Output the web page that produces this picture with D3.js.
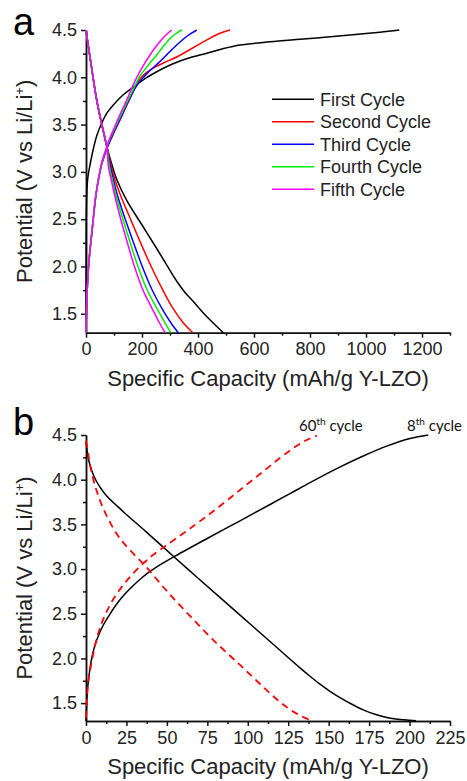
<!DOCTYPE html>
<html>
<head>
<meta charset="utf-8">
<script src="https://cdn.jsdelivr.net/npm/d3@7"></script>
<style>
  body { margin: 0; background: #fff; }
  svg { display: block; font-family: "Liberation Sans", Arial, sans-serif; }
  .axis path, .axis line { stroke: #111; stroke-width: 1.5; }
  .axis text { fill: #222; font-size: 18px; font-family: "Liberation Sans", Arial, sans-serif; }
</style>
</head>
<body>
<script>
// Panel a: [capacity (mAh/g), potential (V)] pairs.
const cycleNames = ['First Cycle', 'Second Cycle', 'Third Cycle', 'Fourth Cycle', 'Fifth Cycle'];
const cycleColors = ['#000000', '#ff0000', '#0000ff', '#00ee00', '#ff00ff'];

const firstCharge = [[0,1.3],[0.18,1.646],[0.54,2.069],[1.07,2.491],[2.14,2.703],[4.29,2.861],[7.86,2.967],[14.3,3.073],[26.1,3.242],[39.3,3.39],[56.1,3.514],[75,3.623],[97.5,3.707],[132.1,3.813],[168.9,3.897],[210.7,3.987],[252.5,4.059],[292.9,4.119],[335.7,4.172],[382.1,4.217],[431.1,4.254],[485.7,4.299],[550,4.341],[657.1,4.375],[764.3,4.402],[853.6,4.424],[942.9,4.447],[1050,4.477],[1118.9,4.5]];
const firstDischarge = [[0,4.5],[3.57,4.426],[7.14,4.352],[14.3,4.215],[25,4.003],[38.2,3.76],[56.1,3.506],[73.9,3.274],[91.8,3.083],[110.7,2.914],[145.4,2.698],[198.9,2.444],[252.5,2.19],[300,1.958],[328.6,1.825],[353.6,1.725],[383.2,1.63],[431.1,1.471],[490.4,1.3]];

const secondCharge = [[0,1.3],[1.07,1.456],[2.5,1.614],[5,1.794],[8.2,1.963],[13.6,2.153],[20.4,2.344],[26.8,2.528],[33.2,2.703],[40.4,2.851],[48.2,2.978],[57.1,3.094],[67.9,3.189],[79.6,3.284],[100,3.416],[121.4,3.549],[139.3,3.665],[157.1,3.776],[173.2,3.876],[186.8,3.956],[200,4.008],[216.8,4.053],[246.4,4.107],[282.1,4.159],[323.9,4.215],[371.4,4.294],[407.1,4.354],[442.9,4.415],[478.6,4.466],[514.3,4.5]];
const secondDischarge = [[0,4.5],[3.57,4.426],[7.14,4.352],[14.3,4.215],[25,4.003],[38.2,3.76],[56.1,3.506],[73.9,3.274],[91.8,3.041],[103.6,2.914],[121.4,2.766],[157.1,2.513],[192.9,2.264],[228.6,2.026],[270.4,1.773],[311.8,1.551],[346.4,1.408],[381.1,1.3]];

const thirdCharge = [[0,1.3],[1.07,1.456],[2.5,1.614],[5,1.794],[8.2,1.963],[13.6,2.153],[20.4,2.344],[26.8,2.528],[33.2,2.703],[40.4,2.851],[48.2,2.978],[57.1,3.094],[67.9,3.189],[79.6,3.284],[100,3.422],[121.4,3.554],[139.3,3.67],[157.1,3.781],[175,3.882],[192.9,3.961],[204.6,3.998],[228.6,4.072],[264.3,4.167],[300,4.273],[335.7,4.373],[364.3,4.442],[395.4,4.5]];
const thirdDischarge = [[0,4.5],[3.57,4.426],[7.14,4.352],[14.3,4.215],[25,4.003],[38.2,3.76],[56.1,3.506],[73.9,3.274],[87.5,3.052],[98.2,2.914],[111.8,2.756],[139.3,2.507],[168.9,2.259],[198.9,2.016],[234.6,1.762],[276.1,1.53],[303.6,1.403],[329.6,1.3]];

const fourthCharge = [[0,1.3],[1.07,1.456],[2.5,1.614],[5,1.794],[8.2,1.963],[13.6,2.153],[20.4,2.344],[26.8,2.528],[33.2,2.703],[40.4,2.851],[48.2,2.978],[57.1,3.105],[67.9,3.205],[79.6,3.305],[100,3.443],[121.4,3.58],[139.3,3.691],[157.1,3.802],[175,3.913],[192.9,4.014],[221.4,4.125],[252.5,4.236],[275,4.322],[300,4.41],[321.4,4.463],[341.8,4.5]];
const fourthDischarge = [[0,4.5],[3.57,4.426],[7.14,4.352],[14.3,4.215],[25,4.003],[38.2,3.76],[56.1,3.506],[73.9,3.274],[83.9,3.052],[94.6,2.904],[107.1,2.75],[131.1,2.507],[157.1,2.259],[183.2,2.021],[216.8,1.762],[237.5,1.641],[258.2,1.53],[280.4,1.413],[302.5,1.3]];

const fifthCharge = [[0,1.3],[1.07,1.456],[2.5,1.614],[5,1.794],[8.2,1.963],[13.6,2.153],[20.4,2.344],[26.8,2.528],[33.2,2.703],[40.4,2.851],[48.2,2.978],[57.1,3.11],[67.9,3.21],[79.6,3.315],[97.5,3.443],[121.4,3.607],[145.4,3.76],[160.7,3.866],[181.1,3.998],[203.6,4.119],[228.6,4.236],[250,4.326],[270.4,4.4],[289.3,4.458],[306.1,4.5]];
const fifthDischarge = [[0,4.5],[3.57,4.426],[7.14,4.352],[14.3,4.215],[25,4.003],[38.2,3.76],[56.1,3.506],[73.9,3.274],[80.4,3.052],[91.1,2.904],[102.5,2.75],[123.9,2.502],[147.5,2.254],[171.4,2.016],[202.5,1.757],[221.4,1.641],[240.4,1.53],[260.7,1.413],[282.1,1.3]];

// Panel b: 8th and 60th cycle.
const eighthCharge = [[0,1.3],[0.19,1.401],[0.49,1.535],[0.8,1.628],[1.55,1.759],[2.47,1.89],[3.71,2.016],[5.56,2.15],[7.73,2.257],[10.69,2.374],[14.22,2.48],[18.98,2.609],[23.49,2.71],[29.24,2.816],[34,2.894],[39.56,2.973],[46.98,3.06],[55.01,3.144],[74.61,3.339],[95.19,3.54],[113.74,3.722],[126.1,3.844],[138.46,3.967],[154.96,4.124],[171.4,4.265],[185.87,4.375],[200.27,4.461],[211.58,4.5]];
const eighthDischarge = [[0,4.425],[0.62,4.332],[1.24,4.254],[2.47,4.164],[4.33,4.064],[6.61,3.977],[9.27,3.901],[12.8,3.817],[23.06,3.642],[37.52,3.411],[55.01,3.127],[68.43,2.911],[84.87,2.649],[103.4,2.354],[119.9,2.091],[132.28,1.895],[138.46,1.801],[144.64,1.712],[150.82,1.632],[157,1.562],[163.18,1.499],[171.4,1.425],[178.64,1.375],[185.87,1.34],[194.09,1.318],[200.27,1.308],[203.98,1.302]];
const sixtiethCharge = [[0,1.334],[0.62,1.535],[1.24,1.714],[2.47,1.859],[4.33,2.038],[6.61,2.217],[9.27,2.374],[12.8,2.525],[17.31,2.676],[23.06,2.822],[29.05,2.95],[35.42,3.064],[41.41,3.157],[47.78,3.241],[55.63,3.342],[64.3,3.454],[73.56,3.577],[82.83,3.706],[92.1,3.84],[101.37,3.974],[110.64,4.108],[119.92,4.243],[127.33,4.343],[133.51,4.416],[138.46,4.461],[142.78,4.494]];
const sixtiethDischarge = [[0,4.433],[1.24,4.31],[2.47,4.164],[6.61,3.873],[12.8,3.594],[21,3.342],[31.3,3.135],[37.5,3.018],[49.9,2.755],[64.3,2.475],[78.7,2.206],[95.2,1.927],[109.6,1.68],[119.9,1.513],[126.1,1.429],[132.3,1.362],[138.5,1.311]];

// Tick values.
const yTicks = [1.5, 2.0, 2.5, 3.0, 3.5, 4.0, 4.5];
const yMinor = [1.75, 2.25, 2.75, 3.25, 3.75, 4.25];
const xTicksA = [0, 200, 400, 600, 800, 1000, 1200];
const xMinorA = [100, 300, 500, 700, 900, 1100, 1300];
const xTicksB = [0, 25, 50, 75, 100, 125, 150, 175, 200, 225];
const xMinorB = [12.5, 37.5, 62.5, 87.5, 112.5, 137.5, 162.5, 187.5, 212.5];

const width = 467;
const height = 781;

const svg = d3.select('body')
              .append('svg')
              .attr('width', width)
              .attr('height', height);

function drawAxes(xScale, yScale, xTicks, xMinor, top, bottom) {
    // Minor ticks first, then the main axes over them.
    svg.append('g')
       .attr('class', 'axis')
       .attr('transform', 'translate(0,' + bottom + ')')
       .call(d3.axisBottom(xScale).tickValues(xMinor).tickSize(3).tickSizeOuter(0).tickFormat(''));
    svg.append('g')
       .attr('class', 'axis')
       .attr('transform', 'translate(86,0)')
       .call(d3.axisLeft(yScale).tickValues(yMinor).tickSize(3).tickSizeOuter(0).tickFormat(''));

    svg.append('g')
       .attr('class', 'axis')
       .attr('transform', 'translate(0,' + bottom + ')')
       .call(d3.axisBottom(xScale).tickValues(xTicks).tickSize(5).tickPadding(5).tickSizeOuter(0).tickFormat(d3.format('d')));
    svg.append('g')
       .attr('class', 'axis')
       .attr('transform', 'translate(86,0)')
       .call(d3.axisLeft(yScale).tickValues(yTicks).tickSize(5).tickPadding(4).tickSizeOuter(0).tickFormat(d3.format('.1f')));

    // Axis titles.
    const yLabel = svg.append('text')
       .attr('transform', 'translate(32,' + ((top + bottom) / 2) + ') rotate(-90)')
       .attr('text-anchor', 'middle')
       .attr('font-size', '22px')
       .attr('fill', '#222');
    yLabel.append('tspan').text('Potential (V vs Li/Li');
    yLabel.append('tspan').attr('font-size', '13px').attr('dy', '-8').text('+');
    yLabel.append('tspan').attr('dy', '8').text(')');

    svg.append('text')
       .attr('x', 268)
       .attr('y', bottom + 53)
       .attr('text-anchor', 'middle')
       .attr('font-size', '22px')
       .attr('fill', '#222')
       .text('Specific Capacity (mAh/g Y-LZO)');
}

// ---- Panel a ----
const xA = d3.scaleLinear().domain([0, 1300]).range([86, 450]);
const yA = d3.scaleLinear().domain([1.3, 4.5]).range([332.7, 30]);

drawAxes(xA, yA, xTicksA, xMinorA, 30, 332.7);

const lineA = d3.line()
                .x((d) => xA(d[0]))
                .y((d) => yA(d[1]))
                .curve(d3.curveCatmullRom.alpha(0.5));

const seriesA = [
    [firstCharge, firstDischarge],
    [secondCharge, secondDischarge],
    [thirdCharge, thirdDischarge],
    [fourthCharge, fourthDischarge],
    [fifthCharge, fifthDischarge]
];

seriesA.forEach((pair, i) => {
    pair.forEach((curve) => {
        svg.append('path')
           .datum(curve)
           .attr('d', lineA)
           .attr('fill', 'none')
           .attr('stroke', cycleColors[i])
           .attr('stroke-width', 1.5);
    });
});

// Legend.
const legend = svg.append('g');
cycleNames.forEach((name, i) => {
    const y = 99.3 + i * 22.5;
    legend.append('line')
          .attr('x1', 272).attr('x2', 314)
          .attr('y1', y).attr('y2', y)
          .attr('stroke', cycleColors[i])
          .attr('stroke-width', 1.5);
    legend.append('text')
          .attr('x', 320)
          .attr('y', y + 6.5)
          .attr('font-size', '18px')
          .attr('fill', '#222')
          .text(name);
});

svg.append('text')
   .attr('x', 13)
   .attr('y', 35)
   .attr('font-size', '38px')
   .attr('fill', '#000')
   .text('a');

// ---- Panel b ----
const xB = d3.scaleLinear().domain([0, 225]).range([86, 450]);
const yB = d3.scaleLinear().domain([1.3, 4.5]).range([721, 435]);

drawAxes(xB, yB, xTicksB, xMinorB, 435, 721);

const lineB = d3.line()
                .x((d) => xB(d[0]))
                .y((d) => yB(d[1]))
                .curve(d3.curveCatmullRom.alpha(0.5));

[eighthCharge, eighthDischarge].forEach((curve) => {
    svg.append('path')
       .datum(curve)
       .attr('d', lineB)
       .attr('fill', 'none')
       .attr('stroke', '#000')
       .attr('stroke-width', 1.5);
});

[sixtiethCharge, sixtiethDischarge].forEach((curve) => {
    svg.append('path')
       .datum(curve)
       .attr('d', lineB)
       .attr('fill', 'none')
       .attr('stroke', '#ff0000')
       .attr('stroke-width', 1.8)
       .attr('stroke-dasharray', '7,5');
});

// Curve annotations.
function annotate(x, y, num) {
    const t = svg.append('text')
                 .attr('x', x)
                 .attr('y', y)
                 .attr('font-family', 'Lato, sans-serif')
                 .attr('font-size', '15px')
                 .attr('fill', '#111');
    t.append('tspan').text(num);
    t.append('tspan').attr('font-size', '10px').attr('dy', '-6').text('th');
    t.append('tspan').attr('dy', '6').text(' cycle');
}
annotate(299, 430.5, '60');
annotate(407, 430.5, '8');

svg.append('text')
   .attr('x', 13)
   .attr('y', 435)
   .attr('font-size', '38px')
   .attr('fill', '#000')
   .text('b');
</script>
</body>
</html>
